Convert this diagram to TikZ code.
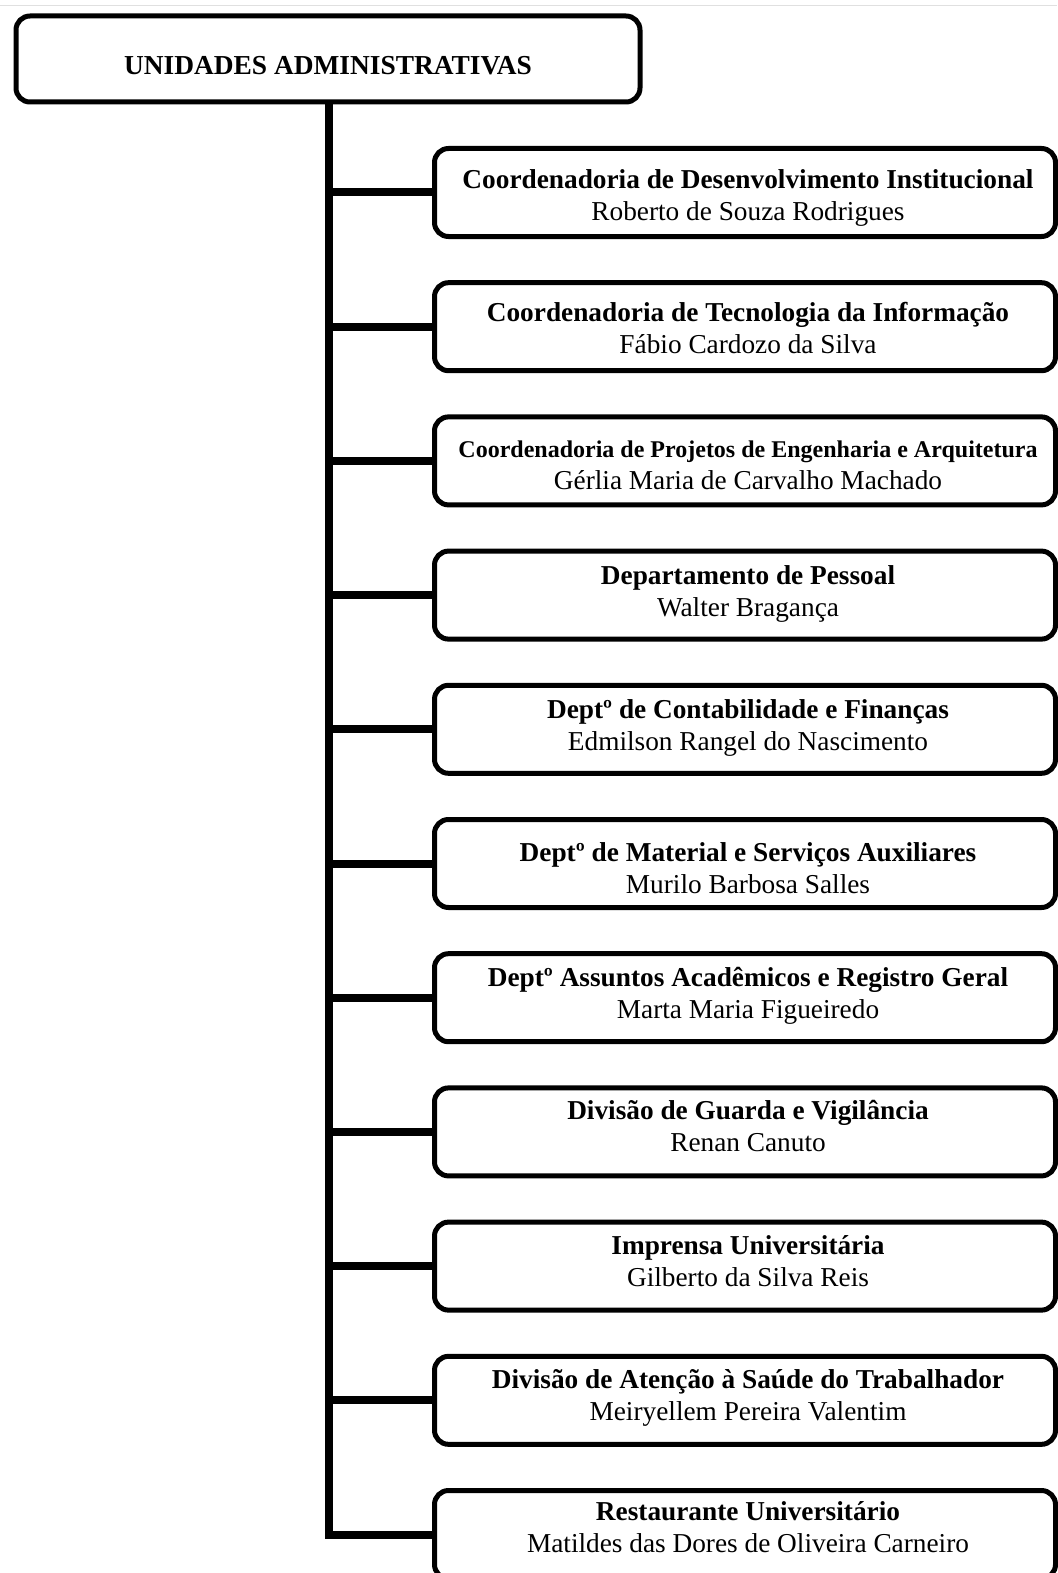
\documentclass[tikz,border=0pt]{standalone}
\usepackage{fontspec}
\setmainfont{Liberation Serif}
\newcommand{\topstr}{\rule{0pt}{20pt}}
\newcommand{\botstr}{\rule[-7pt]{0pt}{7pt}}
\begin{document}
\begin{tikzpicture}[x=1pt,y=-1pt,
  unitbox/.style={draw=black, line width=5pt, rounded corners=14pt, fill=white,
    minimum width=621pt, minimum height=88pt, inner sep=0pt},
  unittext/.style={align=center, inner sep=0pt, font=\fontsize{27.3}{32}\selectfont},
  topbox/.style={draw=black, line width=5pt, rounded corners=14pt, fill=white,
    minimum width=624pt, minimum height=86pt, inner sep=0pt},
  conn/.style={line width=8pt}]
\useasboundingbox (0,0) rectangle (1057,1573);
\draw[line width=1pt, black!12] (0,6) -- (1057,6);
\node[topbox] (top) at (328,59) {};
\node[font=\fontsize{27.4}{30}\selectfont\bfseries] (toptxt) at (328,66) {UNIDADES ADMINISTRATIVAS};
% boxes
\node[unitbox] (b1) at (745,192.5) {};
\node[unitbox] (b2) at (745,326.7) {};
\node[unitbox] (b3) at (745,460.9) {};
\node[unitbox] (b4) at (745,595.1) {};
\node[unitbox] (b5) at (745,729.3) {};
\node[unitbox] (b6) at (745,863.5) {};
\node[unitbox] (b7) at (745,997.7) {};
\node[unitbox] (b8) at (745,1131.9) {};
\node[unitbox] (b9) at (745,1266.1) {};
\node[unitbox] (b10) at (745,1400.3) {};
\node[unitbox] (b11) at (745,1534.5) {};
% texts
\node[unittext] (t1) at (748,197.5) {\topstr\textbf{Coordenadoria de Desenvolvimento Institucional}\\Roberto de Souza Rodrigues\botstr};
\node[unittext] (t2) at (748,330.7) {\topstr\textbf{Coordenadoria de Tecnologia da Informação}\\Fábio Cardozo da Silva\botstr};
\node[unittext] (t3) at (748,466.9) {\topstr{\fontsize{24}{32}\selectfont\textbf{Coordenadoria de Projetos de Engenharia e Arquitetura}}\\Gérlia Maria de Carvalho Machado\botstr};
\node[unittext] (t4) at (748,594.1) {\topstr\textbf{Departamento de Pessoal}\\Walter Bragança\botstr};
\node[unittext] (t5) at (748,728.3) {\topstr\textbf{Deptº de Contabilidade e Finanças}\\Edmilson Rangel do Nascimento\botstr};
\node[unittext] (t6) at (748,870.5) {\topstr\textbf{Deptº de Material e Serviços Auxiliares}\\Murilo Barbosa Salles\botstr};
\node[unittext] (t7) at (748,995.7) {\topstr\textbf{Deptº Assuntos Acadêmicos e Registro Geral}\\Marta Maria Figueiredo\botstr};
\node[unittext] (t8) at (748,1128.9) {\topstr\textbf{Divisão de Guarda e Vigilância}\\Renan Canuto\botstr};
\node[unittext] (t9) at (748,1264.1) {\topstr\textbf{Imprensa Universitária}\\Gilberto da Silva Reis\botstr};
\node[unittext] (t10) at (748,1398.3) {\topstr\textbf{Divisão de Atenção à Saúde do Trabalhador}\\Meiryellem Pereira Valentim\botstr};
\node[unittext] (t11) at (748,1530) {\topstr\textbf{Restaurante Universitário}\\Matildes das Dores de Oliveira Carneiro\botstr};
% connectors
\coordinate (tr) at (329,0);
\draw[conn] (top.south -| tr) -- (b11.west -| tr) -- (b11.west);
\foreach \i in {1,...,10}{
  \draw[conn] (b\i.west -| tr) -- (b\i.west);
}
\end{tikzpicture}
\end{document}
